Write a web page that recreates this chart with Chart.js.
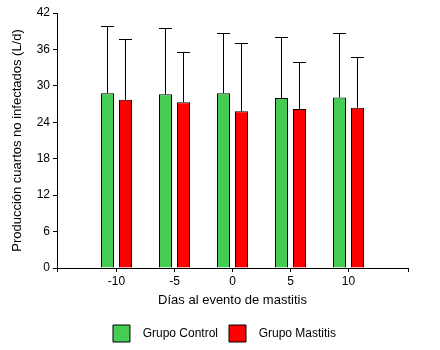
<!DOCTYPE html>
<html>
<head>
<meta charset="utf-8">
<script src="https://cdn.jsdelivr.net/npm/chart.js@4.4.1/dist/chart.umd.min.js"></script>
<style>
  html, body { margin: 0; padding: 0; background: #fff; }
  #c { display: block; }
</style>
</head>
<body>
<canvas id="c" width="440" height="350"></canvas>
<script>
// Data
const days = [-10, -5, 0, 5, 10];
const xTickValues = [-10, -5, 0, 5, 10];
const yTickStep = 6;
const controlMean = [28.8, 28.6, 28.8, 28.0, 28.1];
const controlSD   = [11.1, 11.0, 9.9, 10.0, 10.6];
const mastitisMean = [27.7, 27.3, 25.8, 26.2, 26.4];
const mastitisSD   = [10.1, 8.2, 11.2, 7.7, 8.3];
const seriesLabels = ['Grupo Control', 'Grupo Mastitis'];

Chart.defaults.font.family = "'Liberation Sans', Arial, sans-serif";
Chart.defaults.font.size = 12;
Chart.defaults.color = '#000';

const errorBars = {
  id: 'errorBars',
  afterDatasetsDraw(chart) {
    const ctx = chart.ctx;
    const yScale = chart.scales.y;
    ctx.save();
    ctx.strokeStyle = '#000';
    ctx.lineWidth = 1;
    chart.data.datasets.forEach((ds, i) => {
      const meta = chart.getDatasetMeta(i);
      meta.data.forEach((bar, j) => {
        const top = Math.round(yScale.getPixelForValue(ds.data[j].y + ds.sd[j])) + 0.5;
        const x = Math.floor(bar.x + 0.01) + 0.5;
        const half = bar.width / 2;
        ctx.beginPath();
        ctx.moveTo(x, bar.y);
        ctx.lineTo(x, top);
        ctx.moveTo(Math.round(bar.x - half), top);
        ctx.lineTo(Math.round(bar.x + half), top);
        ctx.stroke();
      });
    });
    ctx.restore();
  }
};

new Chart(document.getElementById('c'), {
  type: 'bar',
  data: {
    datasets: [
      {
        label: seriesLabels[0],
        data: days.map((d, i) => ({ x: d, y: controlMean[i] })),
        sd: controlSD,
        backgroundColor: '#44CC55',
        borderColor: '#000',
        borderWidth: 1,
        categoryPercentage: 36 / 58,
        barPercentage: 13 / 18
      },
      {
        label: seriesLabels[1],
        data: days.map((d, i) => ({ x: d, y: mastitisMean[i] })),
        sd: mastitisSD,
        backgroundColor: '#FF0000',
        borderColor: '#000',
        borderWidth: 1,
        categoryPercentage: 36 / 58,
        barPercentage: 13 / 18
      }
    ]
  },
  options: {
    responsive: false,
    animation: false,
    devicePixelRatio: 1,
    layout: { padding: { left: 9, right: 0, top: 13, bottom: 0 } },
    plugins: {
      tooltip: { enabled: false },
      legend: {
        position: 'bottom',
        maxHeight: 36,
        labels: {
          boxWidth: 17,
          boxHeight: 17,
          padding: 11,
          color: '#000',
          font: { size: 12 },
          generateLabels(chart) {
            return Chart.defaults.plugins.legend.labels.generateLabels(chart)
              .map(l => Object.assign({}, l, { text: '  ' + l.text }));
          }
        }
      }
    },
    scales: {
      x: {
        type: 'linear',
        min: -15.12931,
        max: 15.12931,
        offset: false,
        afterBuildTicks(s) {
          s.ticks = [s.min].concat(xTickValues, [s.max]).map(v => ({ value: v }));
        },
        afterFit(s) { s.height = 46; },
        ticks: {
          autoSkip: false,
          maxRotation: 0,
          padding: 2,
          color: '#000',
          callback: v => xTickValues.includes(v) ? String(v) : ''
        },
        grid: { display: true, offset: false, drawOnChartArea: false, drawTicks: true, tickLength: 4, color: '#000' },
        border: { display: true, color: '#000', width: 1 },
        title: { display: true, text: 'Días al evento de mastitis', color: '#000', font: { size: 13 }, padding: { top: 0, bottom: 6 } }
      },
      y: {
        position: 'left',
        min: 0,
        max: 42,
        afterFit(s) { s.width = 48; },
        ticks: { stepSize: yTickStep, padding: 3, color: '#000' },
        grid: { display: true, drawOnChartArea: false, drawTicks: true, tickLength: 4, color: '#000' },
        border: { display: true, color: '#000', width: 1 },
        title: { display: true, text: 'Producción cuartos no infectados (L/d)', color: '#000', font: { size: 13 }, padding: { top: 1, bottom: 0 } }
      },
      yR: {
        position: 'right',
        display: true,
        afterFit(s) { s.width = 32; },
        ticks: { display: false },
        grid: { display: false },
        border: { display: false }
      }
    }
  },
  plugins: [errorBars]
});
</script>
</body>
</html>
